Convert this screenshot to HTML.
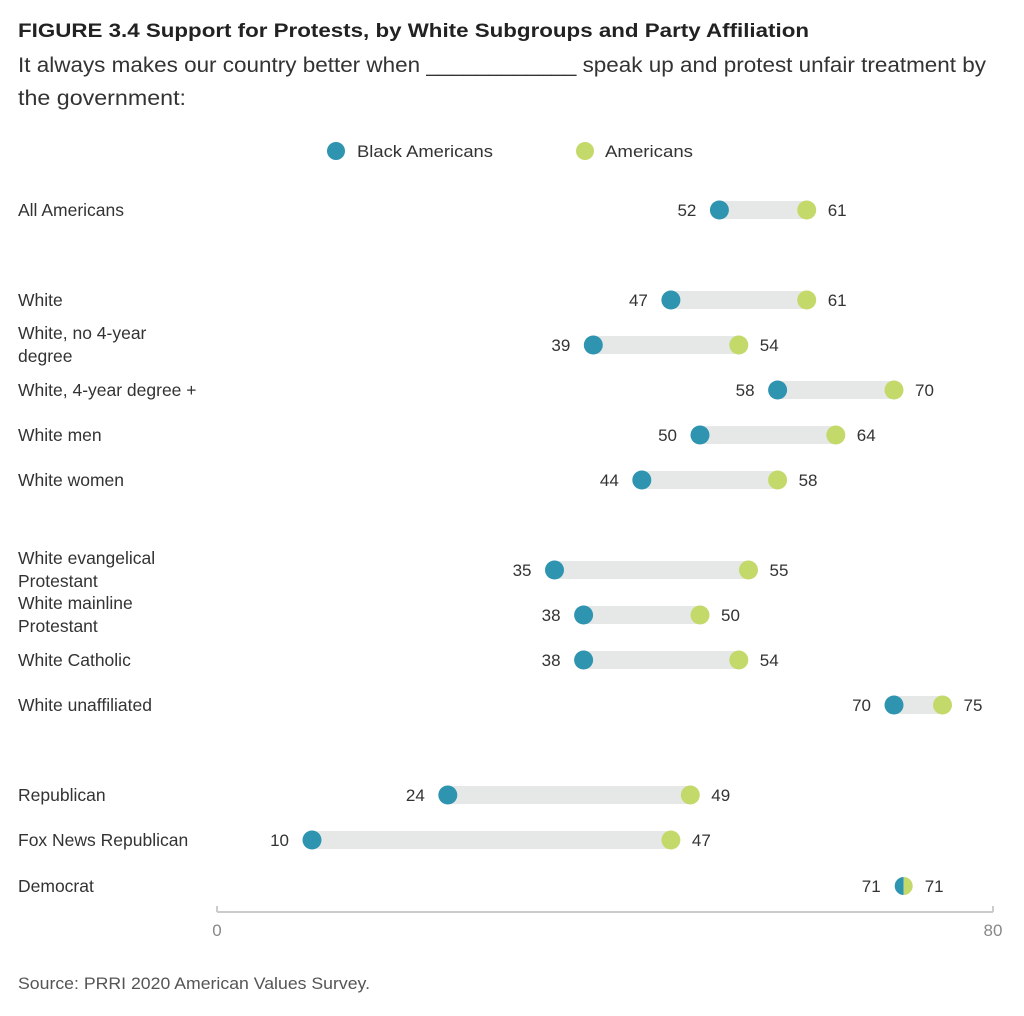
<!DOCTYPE html>
<html><head><meta charset="utf-8"><style>
body{margin:0;background:#fff;font-family:"Liberation Sans",sans-serif;}
</style></head><body>
<svg width="1024" height="1011" xmlns="http://www.w3.org/2000/svg" id="chart" font-family="Liberation Sans, sans-serif">
<text x="18" y="37" font-size="19" font-weight="bold" fill="#222" textLength="791" lengthAdjust="spacingAndGlyphs">FIGURE 3.4  Support for Protests, by White Subgroups and Party Affiliation</text>
<text x="18" y="72" font-size="21" fill="#333" textLength="968" lengthAdjust="spacingAndGlyphs">It always makes our country better when ____________ speak up and protest unfair treatment by</text>
<text x="18" y="105" font-size="21" fill="#333" textLength="168" lengthAdjust="spacingAndGlyphs">the government:</text>
<g>
<circle cx="336" cy="151" r="9" fill="#2e94b0"/>
<text x="357" y="157" font-size="17" fill="#333" textLength="136" lengthAdjust="spacingAndGlyphs">Black Americans</text>
<circle cx="585" cy="151" r="9" fill="#c3da6b"/>
<text x="605" y="157" font-size="17" fill="#333" textLength="88" lengthAdjust="spacingAndGlyphs">Americans</text>
</g>
<g id="rows"></g>
<line x1="217" y1="912" x2="993" y2="912" stroke="#ccc" stroke-width="2"/>
<line x1="217" y1="906" x2="217" y2="912" stroke="#ccc" stroke-width="2"/>
<line x1="993" y1="906" x2="993" y2="912" stroke="#ccc" stroke-width="2"/>
<text x="217" y="936" font-size="17" fill="#888" text-anchor="middle">0</text>
<text x="993" y="936" font-size="17" fill="#888" text-anchor="middle">80</text>
<text x="18" y="989" font-size="17" fill="#555" textLength="352" lengthAdjust="spacingAndGlyphs">Source: PRRI 2020 American Values Survey.</text>
</svg>
<script>
const categories=[["All Americans"],["White"],["White, no 4-year","degree"],["White, 4-year degree +"],["White men"],["White women"],["White evangelical","Protestant"],["White mainline","Protestant"],["White Catholic"],["White unaffiliated"],["Republican"],["Fox News Republican"],["Democrat"]];
const blackValues=[52,47,39,58,50,44,35,38,38,70,24,10,71];
const americansValues=[61,61,54,70,64,58,55,50,54,75,49,47,71];
const rowY=[210,300,345,390,435,480,570,615,660,705,795,840,886];
const x=v=>215+v*9.7;
const NS="http://www.w3.org/2000/svg";
const g=document.getElementById('rows');
function mk(t,a){const e=document.createElementNS(NS,t);for(const k in a)e.setAttribute(k,a[k]);g.appendChild(e);return e;}
categories.forEach((c,i)=>{
 const y=rowY[i],b=blackValues[i],a=americansValues[i];
 const lo=Math.min(b,a),hi=Math.max(b,a);
 const lab=mk('text',{x:18,y:c.length>1?y-6:y+6,'font-size':17.5,fill:'#333'});
 
 
 c.forEach((s,j)=>{const t=document.createElementNS(NS,'tspan');t.setAttribute('x',18);t.setAttribute('dy',j?23:0);t.textContent=s;lab.appendChild(t);});
 const bar=mk('rect',{x:x(lo),y:y-9,width:x(hi)-x(lo),height:18,fill:'#e6e8e8'});
 
 
 if(b===a){
  const cx=x(b);
  const l=mk('path',{d:`M${cx},${y-9} A9,9 0 0 0 ${cx},${y+9} Z`,fill:'#2e94b0'});
  
  
  const r=mk('path',{d:`M${cx},${y-9} A9,9 0 0 1 ${cx},${y+9} Z`,fill:'#c3da6b'});
  
  
 }else{
  const d1=mk('circle',{cx:x(b),cy:y,r:9.5,fill:'#2e94b0'});
  
  
  const d2=mk('circle',{cx:x(a),cy:y,r:9.5,fill:'#c3da6b'});
  
  
 }
 const t1=mk('text',{x:x(lo)-23,y:y+6,'font-size':17,fill:'#333','text-anchor':'end'});
 t1.textContent=b<=a?b:a;
 
 
 const t2=mk('text',{x:x(hi)+21,y:y+6,'font-size':17,fill:'#333'});
 t2.textContent=b<=a?a:b;
 
 
});
</script>
</body></html>
